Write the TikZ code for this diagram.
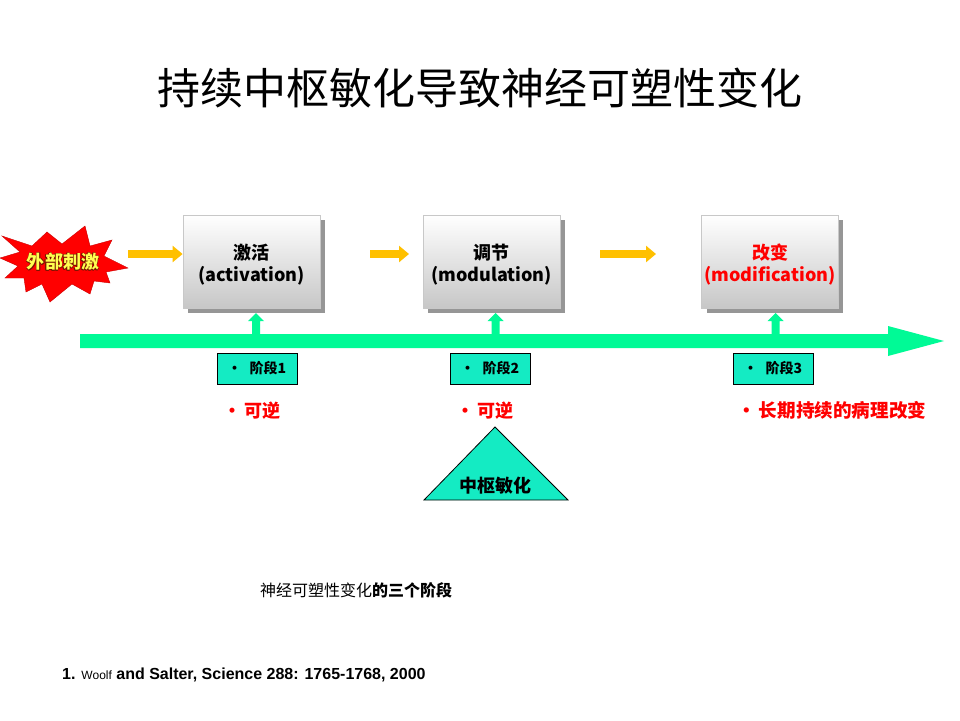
\documentclass[tikz,border=0pt]{standalone}
\usepackage{fontspec}
\setmainfont{Noto Sans CJK SC}
\newfontfamily\arialf{Liberation Sans}
\usetikzlibrary{arrows.meta,shapes.geometric}
\definecolor{gold}{RGB}{255,192,0}
\definecolor{spring}{RGB}{0,250,150}
\definecolor{teal2}{RGB}{20,235,195}
\definecolor{redt}{RGB}{255,0,0}
\definecolor{shadowg}{RGB}{150,150,150}
\definecolor{boxedge}{RGB}{200,200,200}
\definecolor{outl}{RGB}{120,20,0}
\definecolor{yel}{RGB}{255,255,80}
\begin{document}
\begin{tikzpicture}[x=1pt,y=-1pt,
  orangearrow/.style={draw=gold,line width=8pt,-{Triangle[length=10pt,width=16pt]}},
  stagebox/.style={draw=black,line width=0.8pt,fill=teal2,minimum width=80pt,minimum height=31pt,inner sep=0pt,font=\fontsize{14}{16}\selectfont\bfseries},
  redtext/.style={text=redt,font=\fontsize{18}{20}\selectfont\bfseries,anchor=west,inner sep=0pt},
  procbox/.style={draw=boxedge,line width=0.8pt,top color=white,bottom color=black!22,minimum width=137pt,minimum height=93pt,inner sep=0pt},
  proctext/.style={align=center,inner sep=0pt,font=\fontsize{18}{22.5}\selectfont\bfseries},
  uparrow/.style={fill=spring,draw=none},
  bursttext/.style={inner sep=0pt,font=\fontsize{18}{20}\selectfont\bfseries}
]
\useasboundingbox (0,0) rectangle (960,720);
\fill[white] (0,0) rectangle (960,720);

% title
\node (title) at (480,88) {\fontsize{43}{46}\selectfont 持续中枢敏化导致神经可塑性变化};

% starburst
\fill[red,draw=red!80!black,line width=0.4pt] (2,236) -- (32,246) -- (47,232) -- (62,244) -- (85,226) -- (90,246) -- (112,240) -- (104,256) -- (128,268) -- (106,272) -- (110,283) -- (94,281) -- (90,294) -- (72,284) -- (50,302) -- (42,284) -- (26,292) -- (24,278) -- (5,278) -- (18,266) -- (0,258) -- (20,252) -- cycle;
\foreach \dx/\dy in {-0.8/0,0.8/0,0/-0.8,0/0.8,-0.6/-0.6,0.6/0.6,-0.6/0.6,0.6/-0.6}{
  \node[bursttext,text=outl] at (63+\dx,262+\dy) {外部刺激};
}
\node[bursttext,text=yel] (bursttxt) at (63,262) {外部刺激};

% shadows
\fill[shadowg] (188,220) rectangle (325,313);
\fill[shadowg] (428,220) rectangle (565,313);
\fill[shadowg] (707,220) rectangle (843,313);

% process boxes
\node[procbox] (b1) at (251.5,261.5) {};
\node[procbox] (b2) at (491.5,261.5) {};
\node[procbox] (b3) at (770,261.5) {};
\node[proctext] (b1t) at ([yshift=-3pt]b1.center) {激活\\(activation)};
\node[proctext] (b2t) at ([yshift=-3pt]b2.center) {调节\\(modulation)};
\node[proctext,text=redt] (b3t) at ([yshift=-3pt]b3.center) {改变\\(modification)};

% orange arrows
\coordinate (o1s) at (128,254);
\draw[orangearrow] (o1s) -- (b1.west |- o1s);
\coordinate (o2s) at (370,254);
\coordinate (o2e) at (409,254);
\draw[orangearrow] (o2s) -- (o2e);
\coordinate (o3s) at (600,254);
\coordinate (o3e) at (656,254);
\draw[orangearrow] (o3s) -- (o3e);

% big green arrow
\fill[spring] (80,334) -- (888,334) -- (888,326) -- (944,341) -- (888,356) -- (888,348) -- (80,348) -- cycle;

% small up arrows
\foreach \x in {256,495.5,775.5}{
  \fill[uparrow] (\x-4,335) -- (\x-4,321) -- (\x-8,321) -- (\x,313) -- (\x+8,321) -- (\x+4,321) -- (\x+4,335) -- cycle;
}

% stage boxes
\node[stagebox] (s1) at (257,368.5) {•\hspace{8pt}阶段1};
\node[stagebox] (s2) at (490,368.5) {•\hspace{8pt}阶段2};
\node[stagebox] (s3) at (773,368.5) {•\hspace{8pt}阶段3};

% red notes
\node[redtext] (r1) at (223,411) {•\hspace{3pt}可逆};
\node[redtext] (r2) at (456,411) {•\hspace{3pt}可逆};
\node[redtext,font=\fontsize{18.6}{20}\selectfont\bfseries] (r3) at (737,410) {•\hspace{3pt}长期持续的病理改变};

% triangle
\fill[teal2,draw=black,line width=0.8pt] (495,427) -- (568,500) -- (424,500) -- cycle;
\node[font=\fontsize{18}{20}\selectfont\bfseries] (tri) at (495,486) {中枢敏化};

% caption
\node[anchor=west,inner sep=0pt] (cap) at (260,590) {\fontsize{16}{18}\selectfont 神经可塑性变化\textbf{的三个阶段}};

% reference
\node[anchor=west,inner sep=0pt] (ref) at (62,675) {\arialf\fontsize{16}{18}\selectfont\bfseries 1. {\mdseries\fontsize{12}{14}\selectfont Woolf} and Salter, Science 288: 1765-1768, 2000};
\end{tikzpicture}
\end{document}
